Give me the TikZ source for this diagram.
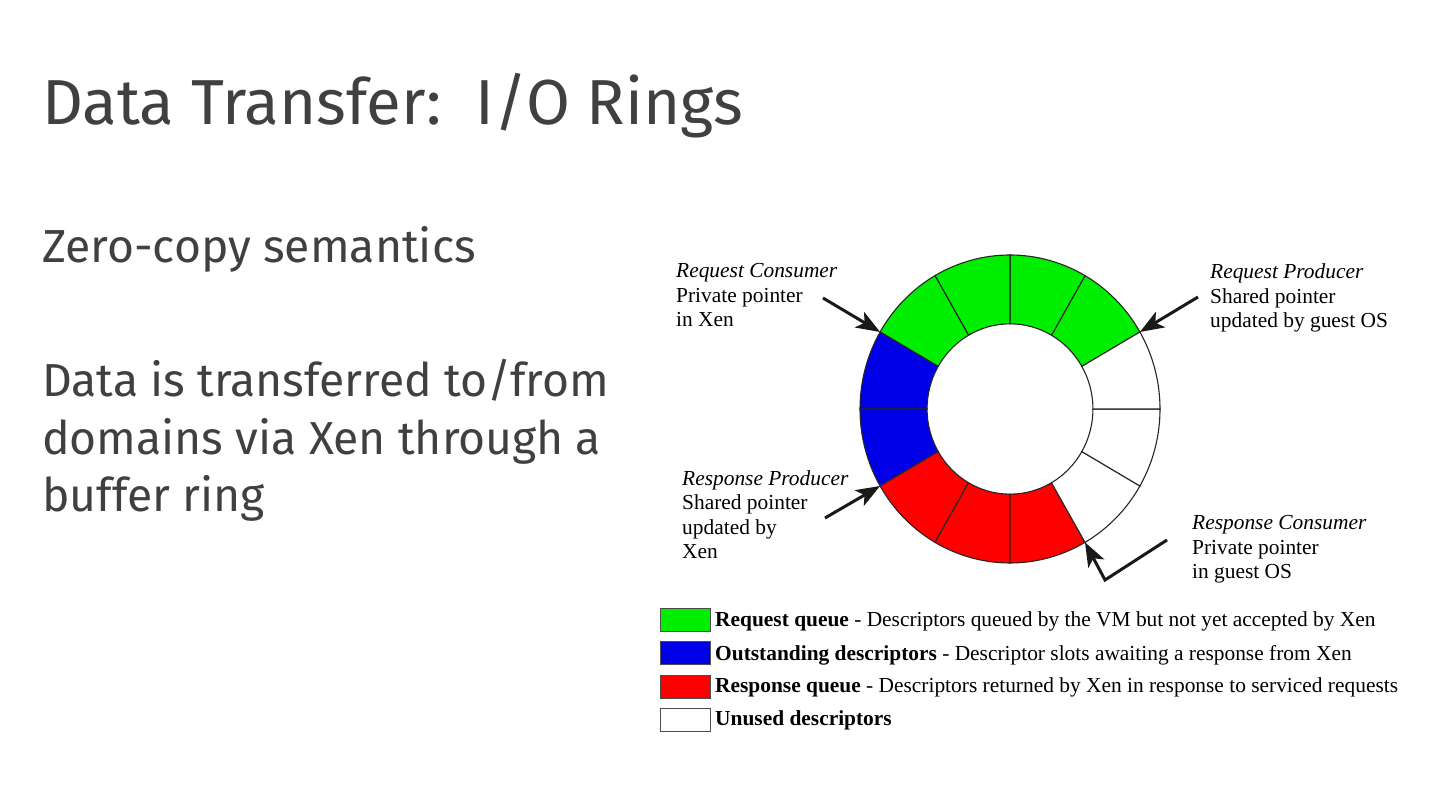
\documentclass[tikz,border=0pt]{standalone}
\usepackage{fontspec}
\setmainfont{Liberation Serif}
\newfontfamily\slidefont{Fira Sans}
\usetikzlibrary{arrows.meta}
\definecolor{slidegray}{RGB}{64,64,64}
\definecolor{rgreen}{RGB}{0,238,0}
\definecolor{rblue}{RGB}{0,0,232}
\definecolor{rred}{RGB}{255,0,0}
\begin{document}
\begin{tikzpicture}[x=1pt,y=1pt,
  seg/.style={draw=black!85, line width=1.1pt},
  ptr/.style={line width=3pt, draw=black!90, line join=miter, -{Stealth[length=24pt,width=18pt,inset=6pt]}},
  lbl/.style={anchor=base west, inner sep=0pt, align=left, font=\fontsize{21.4}{24.5}\selectfont},
  legbox/.style={draw=black!70, line width=1pt, minimum width=50pt, minimum height=23pt, inner sep=0pt, anchor=north west},
  legtext/.style={anchor=base west, inner sep=0pt, font=\fontsize{21.4}{24.5}\selectfont},
  slidetxt/.style={anchor=base west, inner sep=0pt, align=left, text=slidegray}
]
\useasboundingbox (0,0) rectangle (1440,810);
\fill[white] (0,0) rectangle (1440,810);

% title and bullets
\node[slidetxt, font=\slidefont\fontsize{63.6}{66}\selectfont] (title) at (42,685) {Data Transfer:\ \ I/O Rings};
\node[slidetxt, font=\slidefont\fontsize{46.3}{57.5}\selectfont] (b1) at (42,547) {Zero-copy semantics};
\node[slidetxt, font=\slidefont\fontsize{46.3}{57.5}\selectfont] (b2) at (42,298) {Data is transferred to/from\\domains via Xen through a\\buffer ring};

% ring
\begin{scope}[shift={(1010,401)}, xscale=150, yscale=154]
  \foreach \a/\c [evaluate=\a as \b using \a+30] in {30/rgreen,60/rgreen,90/rgreen,120/rgreen,150/rblue,180/rblue,210/rred,240/rred,270/rred,300/white,330/white,0/white}
    \filldraw[seg, fill=\c] (\a:0.553) -- (\a:1) arc[start angle=\a, end angle=\b, radius=1] -- (\b:0.553) arc[start angle=\b, end angle=\a, radius=0.553] -- cycle;
  \coordinate (tipRC) at (150:1);
  \coordinate (tipRP) at (30:1);
  \coordinate (tipSP) at (210:1);
  \coordinate (tipSC) at (300:1);
\end{scope}

% labels (base anchor = last line)
\node[lbl] (rc) at (676,483) {\textit{Request Consumer}\\Private pointer\\in Xen};
\node[lbl] (rp) at (1210,482) {\textit{Request Producer}\\Shared pointer\\updated by guest OS};
\node[lbl] (sp) at (682,251) {\textit{Response Producer}\\Shared pointer\\updated by\\Xen};
\node[lbl] (sc) at (1192,231) {\textit{Response Consumer}\\Private pointer\\in guest OS};

% pointer arrows
\coordinate (fromRC) at (823,512);
\coordinate (fromRP) at (1198,513);
\coordinate (fromSP) at (825,292);
\coordinate (fromSC) at (1167,270);
\coordinate (bendSC) at (1105,230);
\draw[ptr] (fromRC) -- (tipRC);
\draw[ptr] (fromRP) -- (tipRP);
\draw[ptr] (fromSP) -- (tipSP);
\draw[ptr] (fromSC) -- (bendSC) -- (tipSC);

% legend
\node[legbox, fill=rgreen] (lg1) at (660,202) {};
\node[legbox, fill=rblue] (lg2) at (660,169) {};
\node[legbox, fill=rred] (lg3) at (660,135) {};
\node[legbox, fill=white] (lg4) at (660,102) {};
\node[legtext] (lt1) at (715,183) {\textbf{Request queue} - Descriptors queued by the VM but not yet accepted by Xen};
\node[legtext] (lt2) at (715,149) {\textbf{Outstanding descriptors} - Descriptor slots awaiting a response from Xen};
\node[legtext] (lt3) at (715,117) {\textbf{Response queue} - Descriptors returned by Xen in response to serviced requests};
\node[legtext] (lt4) at (715,84) {\textbf{Unused descriptors}};
\end{tikzpicture}
\end{document}
